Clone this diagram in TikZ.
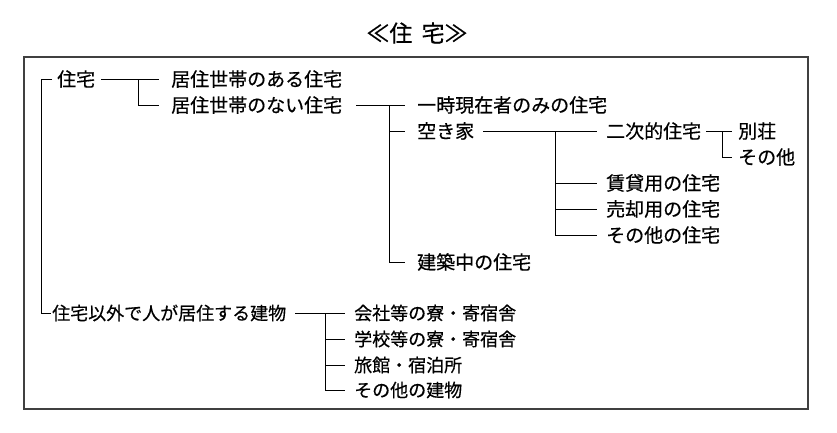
\documentclass[tikz,border=0pt]{standalone}
\usepackage{fontspec}
\setmainfont{Noto Sans CJK JP}[FakeBold=0.5]
\begin{document}
\begin{tikzpicture}[x=1pt,y=-1pt,
  t/.style={anchor=west,inner sep=0pt,font=\fontsize{19}{19}\selectfont},
  tb/.style={anchor=west,inner sep=0pt,font=\fontsize{18}{18}\selectfont},
  ln/.style={line width=0.9pt,black},
  frame/.style={line width=1.4pt,black!75}]
\useasboundingbox (0,0) rectangle (837,432);
\node[font=\fontsize{23}{23}\selectfont,inner sep=0pt] (title) at (417,33) {≪住\hspace{0.4em}宅≫};
\draw[frame] (24,57) rectangle (808,409);
% nodes
\node[t] (jutaku) at (57,79) {住宅};
\node[t] (aru) at (171,79) {居住世帯のある住宅};
\node[t] (nai) at (171,105) {居住世帯のない住宅};
\node[t] (ichiji) at (417,105) {一時現在者のみの住宅};
\node[t] (akiya) at (417,131) {空き家};
\node[t] (kenchiku) at (417,262) {建築中の住宅};
\node[t] (niji) at (606,131) {二次的住宅};
\node[t] (bessou) at (738,131) {別荘};
\node[t] (sonota1) at (738,157) {その他};
\node[t] (chintai) at (606,183) {賃貸用の住宅};
\node[t] (baikyaku) at (606,209) {売却用の住宅};
\node[t] (sonota2) at (606,235) {その他の住宅};
\node[tb] (igai) at (52,313) {住宅以外で人が居住する建物};
\node[tb] (kaisha) at (354,313) {会社等の寮・寄宿舎};
\node[tb] (gakko) at (354,339) {学校等の寮・寄宿舎};
\node[tb] (ryokan) at (354,365) {旅館・宿泊所};
\node[tb] (sonota3) at (354,390) {その他の建物};
% connectors
\draw[ln] ([xshift=-5pt]jutaku.west) -- ++(-11,0) |- ([xshift=-1pt]igai.west);
\draw[ln] ([xshift=6pt]jutaku.east) -- ([xshift=-12pt]aru.west);
\draw[ln] ([xshift=-33pt]aru.west) |- ([xshift=-12pt]nai.west);
\draw[ln] ([xshift=14pt]nai.east) -- ([xshift=-12pt]ichiji.west);
\draw[ln] ([xshift=-28pt]ichiji.west) |- ([xshift=-12pt]akiya.west);
\draw[ln] ([xshift=-28pt]ichiji.west) |- ([xshift=-12pt]kenchiku.west);
\draw[ln] ([xshift=9pt]akiya.east) -- ([xshift=-9pt]niji.west);
\draw[ln] ([xshift=-51pt]niji.west) |- ([xshift=-9pt]chintai.west);
\draw[ln] ([xshift=-51pt]niji.west) |- ([xshift=-9pt]baikyaku.west);
\draw[ln] ([xshift=-51pt]niji.west) |- ([xshift=-9pt]sonota2.west);
\draw[ln] ([xshift=5pt]niji.east) -- ([xshift=-6pt]bessou.west);
\draw[ln] ([xshift=-16pt]bessou.west) |- ([xshift=-6pt]sonota1.west);
\draw[ln] ([xshift=9pt]igai.east) -- ([xshift=-9pt]kaisha.west);
\draw[ln] ([xshift=-29pt]kaisha.west) |- ([xshift=-9pt]gakko.west);
\draw[ln] ([xshift=-29pt]kaisha.west) |- ([xshift=-9pt]ryokan.west);
\draw[ln] ([xshift=-29pt]kaisha.west) |- ([xshift=-9pt]sonota3.west);
\end{tikzpicture}
\end{document}
